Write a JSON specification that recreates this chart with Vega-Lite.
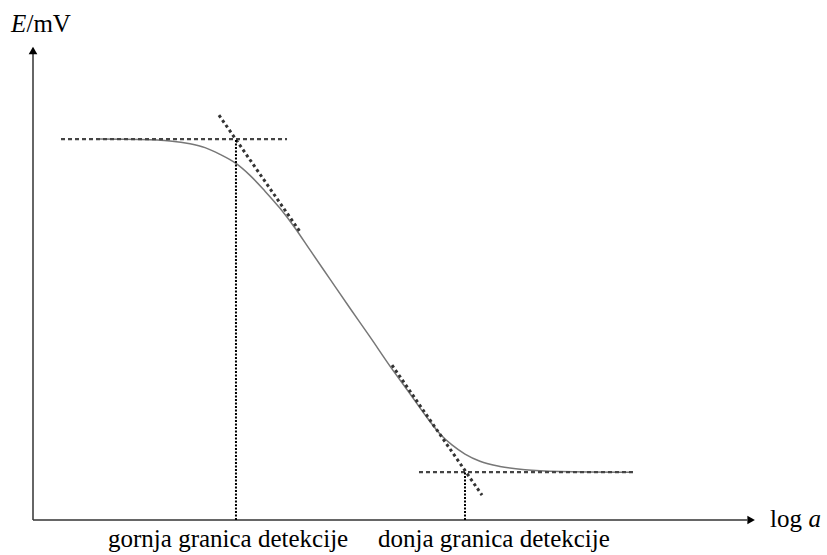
{
  "$schema": "https://vega.github.io/schema/vega-lite/v6.json",
  "autosize": {"type": "none"},
  "padding": {"left": 33, "top": 42, "right": 74, "bottom": 35},
  "width": 720,
  "height": 478,
  "background": "white",
  "config": {"view": {"stroke": null}},
  "datasets": {
    "curve": [
      {"x": 0.931, "y": 7.97}, {"x": 1.486, "y": 7.96}, {"x": 1.903, "y": 7.93},
      {"x": 2.181, "y": 7.87}, {"x": 2.389, "y": 7.79}, {"x": 2.597, "y": 7.65},
      {"x": 2.819, "y": 7.46}, {"x": 3.014, "y": 7.21}, {"x": 3.222, "y": 6.88},
      {"x": 3.431, "y": 6.52}, {"x": 3.639, "y": 6.11}, {"x": 3.847, "y": 5.65},
      {"x": 4.125, "y": 5.04}, {"x": 4.403, "y": 4.43}, {"x": 4.681, "y": 3.83},
      {"x": 4.958, "y": 3.22}, {"x": 5.236, "y": 2.64}, {"x": 5.444, "y": 2.2},
      {"x": 5.653, "y": 1.8}, {"x": 5.819, "y": 1.57}, {"x": 6.0, "y": 1.38},
      {"x": 6.208, "y": 1.23}, {"x": 6.486, "y": 1.12}, {"x": 6.833, "y": 1.05},
      {"x": 7.319, "y": 1.015}, {"x": 8.292, "y": 1.0}
    ],
    "plateaus": [
      {"x": 0.389, "x2": 3.528, "y": 7.97, "y2": 7.97},
      {"x": 5.361, "x2": 8.333, "y": 1.0, "y2": 1.0}
    ],
    "tangents": [
      {"x": 2.583, "x2": 3.708, "y": 8.47, "y2": 6.03},
      {"x": 4.986, "x2": 6.236, "y": 3.24, "y2": 0.52}
    ],
    "limits": [
      {"x": 2.819, "x2": 2.819, "y": 0, "y2": 7.97},
      {"x": 6.0, "x2": 6.0, "y": 0, "y2": 1.0}
    ],
    "axes": [
      {"x": 0, "x2": 9.92, "y": 0, "y2": 0},
      {"x": 0, "x2": 0, "y": 0, "y2": 9.75}
    ],
    "heads": [
      {"x": 9.974, "y": 0, "dir": "triangle-right"},
      {"x": 0, "y": 9.824, "dir": "triangle-up"}
    ],
    "labels": [
      {"x": 1.042, "y": -0.565, "text": "gornja granica detekcije"},
      {"x": 4.792, "y": -0.565, "text": "donja granica detekcije"}
    ]
  },
  "encoding": {
    "x": {"field": "x", "type": "quantitative", "scale": {"domain": [0, 10], "nice": false, "zero": false}, "axis": null},
    "y": {"field": "y", "type": "quantitative", "scale": {"domain": [0, 10], "nice": false, "zero": false}, "axis": null}
  },
  "layer": [
    {
      "data": {"name": "axes"},
      "mark": {"type": "rule", "color": "#333333", "strokeWidth": 1.5},
      "encoding": {"x2": {"field": "x2"}, "y2": {"field": "y2"}}
    },
    {
      "data": {"name": "heads"},
      "mark": {"type": "point", "filled": true, "color": "#000000", "size": 75, "opacity": 1},
      "encoding": {"shape": {"field": "dir", "type": "nominal", "scale": null, "legend": null}}
    },
    {
      "data": {"name": "curve"},
      "mark": {"type": "line", "color": "#777777", "strokeWidth": 1.5, "interpolate": "monotone"}
    },
    {
      "data": {"name": "plateaus"},
      "mark": {"type": "rule", "color": "#444444", "strokeWidth": 2.2, "strokeDash": [4, 3]},
      "encoding": {"x2": {"field": "x2"}, "y2": {"field": "y2"}}
    },
    {
      "data": {"name": "tangents"},
      "mark": {"type": "rule", "color": "#333333", "strokeWidth": 3, "strokeDash": [3, 3]},
      "encoding": {"x2": {"field": "x2"}, "y2": {"field": "y2"}}
    },
    {
      "data": {"name": "limits"},
      "mark": {"type": "rule", "color": "#000000", "strokeWidth": 2, "strokeDash": [2, 1.5]},
      "encoding": {"x2": {"field": "x2"}, "y2": {"field": "y2"}}
    },
    {
      "data": {"name": "labels"},
      "mark": {"type": "text", "font": "Liberation Serif, Times New Roman, serif", "fontSize": 25, "align": "left", "baseline": "alphabetic", "color": "#000000"},
      "encoding": {"text": {"field": "text"}}
    },
    {
      "data": {"values": [{"x": -0.306, "y": 10.215, "text": "E"}]},
      "mark": {"type": "text", "font": "Liberation Serif, Times New Roman, serif", "fontStyle": "italic", "fontSize": 25, "align": "left", "baseline": "alphabetic", "color": "#000000"},
      "encoding": {"text": {"field": "text"}}
    },
    {
      "data": {"values": [{"x": -0.306, "y": 10.215, "text": "/mV"}]},
      "mark": {"type": "text", "font": "Liberation Serif, Times New Roman, serif", "fontSize": 25, "align": "left", "baseline": "alphabetic", "color": "#000000", "dx": 15.5},
      "encoding": {"text": {"field": "text"}}
    },
    {
      "data": {"values": [{"x": 10.236, "y": -0.146, "text": "log"}]},
      "mark": {"type": "text", "font": "Liberation Serif, Times New Roman, serif", "fontSize": 25, "align": "left", "baseline": "alphabetic", "color": "#000000"},
      "encoding": {"text": {"field": "text"}}
    },
    {
      "data": {"values": [{"x": 10.236, "y": -0.146, "text": "a"}]},
      "mark": {"type": "text", "font": "Liberation Serif, Times New Roman, serif", "fontStyle": "italic", "fontSize": 25, "align": "left", "baseline": "alphabetic", "color": "#000000", "dx": 38.5},
      "encoding": {"text": {"field": "text"}}
    }
  ]
}
